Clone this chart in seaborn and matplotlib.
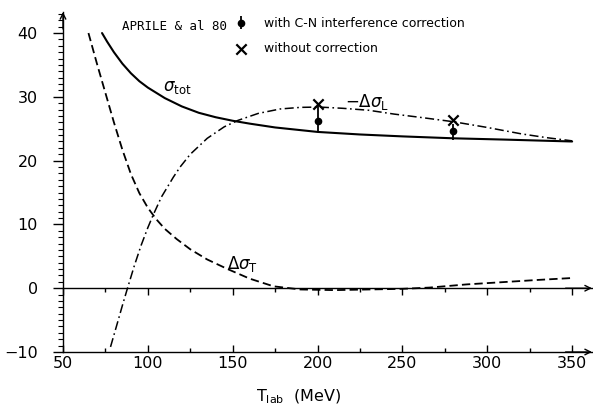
import numpy as np
import pandas as pd
import matplotlib
matplotlib.use("Agg")
import matplotlib.pyplot as plt
import seaborn as sns
from matplotlib.ticker import MultipleLocator, FixedLocator, FixedFormatter

# ---------------- data ----------------
T_tot = [73, 76, 80, 85, 90, 95, 100, 110, 120, 130, 140, 150, 160, 175, 200, 225, 250, 280, 310, 350]
sig_tot = [40.0, 38.65, 37.0, 35.2, 33.7, 32.45, 31.45, 29.8, 28.5, 27.5, 26.8, 26.25, 25.8, 25.2, 24.5,
           24.1, 23.8, 23.5, 23.3, 23.0]

T_L = [78, 82, 85, 88, 92, 96, 100, 103, 108, 115, 119, 125, 135, 145, 153, 165, 178, 190, 201, 215, 230,
       245, 260, 280, 300, 320, 335, 350]
minus_dsig_L = [-9.2, -5.5, -2.7, 0.0, 3.5, 6.7, 9.5, 11.4, 14.3, 17.4, 19.0, 21.0, 23.5, 25.3, 26.3, 27.4,
                28.1, 28.35, 28.4, 28.2, 27.9, 27.3, 26.8, 26.1, 25.2, 24.2, 23.6, 23.1]

T_T = [65, 70, 75, 80, 85, 90, 95, 100, 105, 110, 117, 125, 135, 147, 160, 174, 190, 210, 230, 250, 266,
       288, 306, 330, 350]
dsig_T = [40.0, 35.2, 30.6, 26.0, 21.7, 17.9, 14.9, 12.6, 10.8, 9.3, 7.7, 6.1, 4.5, 3.0, 1.5, 0.3, -0.2,
          -0.3, -0.2, -0.1, 0.1, 0.6, 0.9, 1.3, 1.6]

T_pts = [200, 280]
with_corr = [26.2, 24.7]
with_err_lo = [1.7, 1.4]
with_err_hi = [2.3, 1.1]
without_corr = [28.8, 26.4]

x_ticks = [50, 100, 150, 200, 250, 300, 350]
y_ticks = [-10, 0, 10, 20, 30, 40]
y_tick_labels = ["\u221210", "0", "10", "20", "30", "40"]

# ---------------- style ----------------
sns.set_theme(style="white")
plt.rcParams["font.family"] = ["DejaVu Sans"]
plt.rcParams["text.color"] = "black"
plt.rcParams["axes.labelcolor"] = "black"
plt.rcParams["xtick.color"] = "black"
plt.rcParams["ytick.color"] = "black"
plt.rcParams["lines.scale_dashes"] = False

W, H = 593, 418
fig = plt.figure(figsize=(W / 100, H / 100), dpi=100)
ax = fig.add_axes([63 / W, (H - 352) / H, (592 - 63) / W, (352 - 12) / H])

df_tot = pd.DataFrame({"T": T_tot, "v": sig_tot})
df_L = pd.DataFrame({"T": T_L, "v": minus_dsig_L})
df_T = pd.DataFrame({"T": T_T, "v": dsig_T})

sns.lineplot(data=df_tot, x="T", y="v", ax=ax, color="black", lw=1.5, sort=False, estimator=None)
sns.lineplot(data=df_L, x="T", y="v", ax=ax, color="black", lw=1.1, sort=False, estimator=None,
             linestyle=(0, (6.5, 2.5, 1.2, 2.5)))
sns.lineplot(data=df_T, x="T", y="v", ax=ax, color="black", lw=1.3, sort=False, estimator=None,
             linestyle=(0, (6, 3)))

eb = ax.errorbar(T_pts, with_corr, yerr=[with_err_lo, with_err_hi], fmt="o", color="black",
                 ms=4.5, elinewidth=1.3, capsize=0, zorder=5)
sns.scatterplot(x=T_pts, y=without_corr, ax=ax, marker="x", s=55, color="black", linewidth=1.6,
                zorder=6)
sc_handle = ax.collections[-1]

ax.set_xlim(50, 361.7)
ax.set_ylim(-10, 43.3)

# spines
for s in ["left", "bottom", "top"]:
    ax.spines[s].set_visible(True)
    ax.spines[s].set_color("black")
    ax.spines[s].set_linewidth(1.0)
ax.spines["right"].set_visible(False)
ax.spines["top"].set_position(("data", 0))

# ticks
ax.xaxis.set_major_locator(FixedLocator(x_ticks))
ax.xaxis.set_minor_locator(MultipleLocator(25))
ax.yaxis.set_major_locator(FixedLocator(y_ticks))
ax.yaxis.set_major_formatter(FixedFormatter(y_tick_labels))
ax.yaxis.set_minor_locator(MultipleLocator(1))
ax.tick_params(axis="x", which="both", bottom=True, top=True, labeltop=False, direction="in",
               labelsize=11.5, pad=3)
ax.tick_params(axis="x", which="major", length=5, width=1)
ax.tick_params(axis="x", which="minor", length=3, width=1)
ax.tick_params(axis="y", which="both", left=True, right=False, direction="out", labelsize=11.5)
ax.tick_params(axis="y", which="major", length=7, width=1, pad=11)
ax.tick_params(axis="y", which="minor", length=3.5, width=0.8)

# arrows on axes
arr = dict(arrowstyle="->", lw=1.0, color="black", shrinkA=0, shrinkB=0, mutation_scale=10)
ax.annotate("", xy=(1.0, -10), xytext=(0.95, -10), xycoords=ax.get_yaxis_transform(),
            arrowprops=arr, annotation_clip=False)
ax.annotate("", xy=(1.0, 0), xytext=(0.95, 0), xycoords=ax.get_yaxis_transform(),
            arrowprops=arr, annotation_clip=False)
ax.annotate("", xy=(50, 1.0), xytext=(50, 0.95), xycoords=ax.get_xaxis_transform(),
            arrowprops=arr, annotation_clip=False)

# labels
ax.set_xlabel(r"$\mathrm{T}_{\mathrm{lab}}$  (MeV)", fontsize=11.5)
ax.xaxis.set_label_coords(0.445, -0.105)
ax.set_ylabel("")

ax.text(109, 31.6, r"$\sigma_{\mathrm{tot}}$", fontsize=12, va="center", ha="left")
ax.text(216, 29.2, r"$-\Delta\sigma_{\mathrm{L}}$", fontsize=12, va="center", ha="left")
ax.text(146.6, 3.8, r"$\Delta\sigma_{\mathrm{T}}$", fontsize=12, va="center", ha="left")

fig.text(122 / W, 1 - 27 / H, "APRILE & al 80", fontsize=9, family="DejaVu Sans Mono",
         va="center", ha="left")
leg = ax.legend([eb, sc_handle], ["with C-N interference correction", "without correction"],
                loc="upper left", bbox_to_anchor=(235 / W, 1 - 17 / H), bbox_transform=fig.transFigure,
                frameon=False, fontsize=9, handlelength=1.0, handletextpad=1.35, labelspacing=0.95,
                borderpad=0, borderaxespad=0)

fig.savefig("out.png", dpi=100)
